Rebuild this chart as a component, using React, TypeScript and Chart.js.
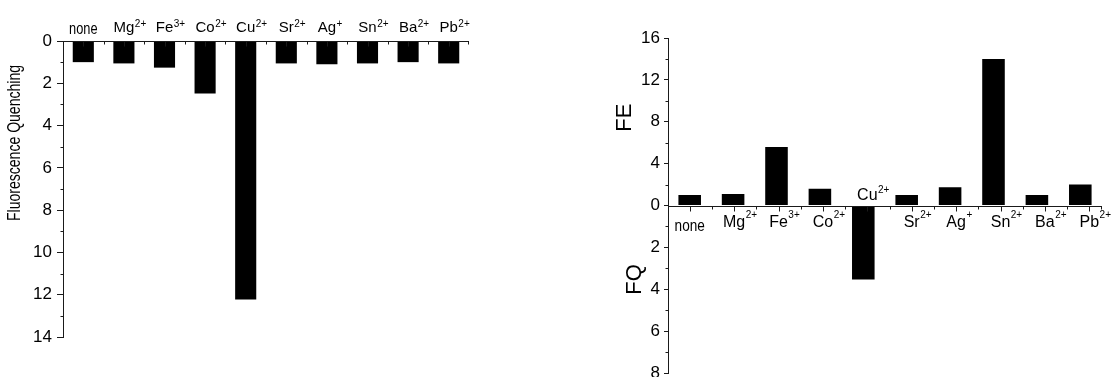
import React, { useEffect, useRef } from 'react';
import { Chart, registerables } from 'chart.js';

Chart.register(...registerables);

// Metal ions screened and their charges (drawn as superscripts)
const ions = ['none', 'Mg', 'Fe', 'Co', 'Cu', 'Sr', 'Ag', 'Sn', 'Ba', 'Pb'];
const charges = ['', '2+', '3+', '2+', '2+', '2+', '+', '2+', '2+', '2+'];

// Left panel: fluorescence quenching per ion
const quenching = [1.0, 1.06, 1.26, 2.48, 12.23, 1.06, 1.1, 1.06, 1.0, 1.06];
const quenchingTicks = [0, 2, 4, 6, 8, 10, 12, 14];

// Right panel: fluorescence enhancement (FE) above, quenching (FQ) below
const enhancementFE = [1.0, 1.1, 5.6, 1.6, null, 1.0, 1.75, 14.0, 1.0, 2.0];
const quenchingFQ = [null, null, null, null, 3.53, null, null, null, null, null];
const feTicks = [0, 4, 8, 12, 16];
const fqTicks = [0, 2, 4, 6, 8];

const FONT = "'Liberation Sans', Arial, Helvetica, sans-serif";
const INK = '#000000';
const AXIS = '#1a1a1a';

type IonStyle = {
  size: number;
  supSize: number;
  raise: number;
  noneSize: number;
  narrow: number;
};

function drawIon(ctx: CanvasRenderingContext2D, x: number, y: number, ion: string, charge: string, st: IonStyle) {
  ctx.fillStyle = INK;
  ctx.textBaseline = 'alphabetic';
  if (!charge) {
    ctx.save();
    ctx.translate(x, y);
    ctx.scale(st.narrow, 1);
    ctx.font = `${st.noneSize}px ${FONT}`;
    ctx.textAlign = 'center';
    ctx.fillText(ion, 0, 0);
    ctx.restore();
    return;
  }
  ctx.font = `${st.size}px ${FONT}`;
  const w = ctx.measureText(ion).width;
  ctx.textAlign = 'left';
  ctx.fillText(ion, x - w / 2, y);
  ctx.font = `${st.supSize}px ${FONT}`;
  ctx.fillText(charge, x + w / 2 + 0.5, y - st.raise);
}

function drawVTitle(ctx: CanvasRenderingContext2D, text: string, cx: number, cy: number, size: number, narrow: number) {
  ctx.save();
  ctx.translate(cx, cy);
  ctx.rotate(-Math.PI / 2);
  ctx.scale(narrow, 1);
  ctx.font = `${size}px ${FONT}`;
  ctx.fillStyle = INK;
  ctx.textAlign = 'center';
  ctx.textBaseline = 'middle';
  ctx.fillText(text, 0, 0);
  ctx.restore();
}

// short ticks halfway between the labelled ones, pointing away from the plot
function minorTicks(ctx: CanvasRenderingContext2D, scale: any, ticks: number[], axisX: number, len: number) {
  for (let k = 0; k < ticks.length - 1; k++) {
    const py = Math.round(scale.getPixelForValue((ticks[k] + ticks[k + 1]) / 2)) + 0.5;
    ctx.moveTo(axisX - len, py);
    ctx.lineTo(axisX, py);
  }
}

// category axis along the zero line: long ticks at ions, short ones between
function categoryTicks(ctx: CanvasRenderingContext2D, x: any, y0: number, right: number, drift: number) {
  const step = x.getPixelForValue(1) - x.getPixelForValue(0);
  ions.forEach((_, i) => {
    const c = x.getPixelForValue(i) + drift * i;
    const cx = Math.round(c) + 0.5;
    ctx.moveTo(cx, y0);
    ctx.lineTo(cx, y0 + 5);
    const b = Math.min(c + (step + drift) / 2, right - 1);
    const bx = Math.round(b) + 0.5;
    ctx.moveTo(bx, y0);
    ctx.lineTo(bx, y0 + 3);
  });
}

function fixedTicks(values: number[]) {
  return (s: any) => {
    s.ticks = values.map((v) => ({ value: v }));
  };
}

// fixed axis width; end labels may hang past the plot edge without shrinking it
function fixedWidth(w: number) {
  return (s: any) => {
    s.width = w;
    s.paddingTop = 0;
    s.paddingBottom = 0;
  };
}

const yTickFont = { family: FONT, size: 17 };

const quenchDecor = {
  id: 'quenchDecor',
  afterDatasetsDraw(chart: any) {
    const { ctx, chartArea, scales } = chart;
    const { x, y } = scales;
    const ax = Math.round(chartArea.left) + 0.5;
    const y0 = Math.round(y.getPixelForValue(0)) + 0.5;
    ctx.save();
    ctx.strokeStyle = AXIS;
    ctx.lineWidth = 1;
    ctx.beginPath();
    ctx.moveTo(chartArea.left, y0);
    ctx.lineTo(chartArea.right, y0);
    categoryTicks(ctx, x, y0, chartArea.right, 0);
    minorTicks(ctx, y, quenchingTicks, ax, 3);
    ctx.stroke();

    const st: IonStyle = { size: 15, supSize: 10, raise: 4.5, noneSize: 16, narrow: 0.8 };
    ions.forEach((ion, i) => {
      const cx = x.getPixelForValue(i);
      drawIon(ctx, cx, charges[i] ? y0 - 10 : y0 - 8, ion, charges[i], st);
    });
    drawVTitle(ctx, 'Fluorescence Quenching', 15, 143, 18, 0.78);
    ctx.restore();
  },
};

const responseDecor = {
  id: 'responseDecor',
  afterDatasetsDraw(chart: any) {
    const { ctx, chartArea, scales } = chart;
    const { x, yFE, yFQ } = scales;
    const ax = Math.round(chartArea.left) + 0.5;
    const y0 = Math.round(yFE.getPixelForValue(0)) + 0.5;
    const drift = 1;
    ctx.save();
    ctx.strokeStyle = AXIS;
    ctx.lineWidth = 1;
    ctx.beginPath();
    ctx.moveTo(chartArea.left, y0);
    ctx.lineTo(chartArea.right, y0);
    categoryTicks(ctx, x, y0, chartArea.right, drift);
    minorTicks(ctx, yFE, feTicks, ax, 3);
    minorTicks(ctx, yFQ, fqTicks, ax, 3);
    ctx.stroke();

    const st: IonStyle = { size: 16, supSize: 10, raise: 8.5, noneSize: 17, narrow: 0.8 };
    ions.forEach((ion, i) => {
      const cx = x.getPixelForValue(i) + drift * i;
      if (quenchingFQ[i] != null) {
        drawIon(ctx, cx, y0 - 7, ion, charges[i], { ...st, raise: 7 });
      } else {
        drawIon(ctx, cx, charges[i] ? y0 + 20 : y0 + 24, ion, charges[i], st);
      }
    });
    // axis titles sit left of the tick labels, one per half of the axis
    const feY = (yFE.top + yFE.bottom) / 2 - 4;
    const fqY = yFQ.top + 74;
    drawVTitle(ctx, 'FE', chartArea.left - 43, feY, 22, 1);
    drawVTitle(ctx, 'FQ', chartArea.left - 33, fqY, 22, 1);
    ctx.restore();
  },
};

const baseBar = {
  backgroundColor: INK,
  borderWidth: 0,
  barPercentage: 0.52,
  categoryPercentage: 1,
  grouped: false,
};

const labels = ions.map((ion, i) => ion + charges[i]);

function quenchConfig(): any {
  return {
    type: 'bar',
    data: {
      labels,
      datasets: [{ label: 'Fluorescence Quenching', data: quenching, ...baseBar }],
    },
    options: {
      responsive: false,
      animation: false,
      events: [],
      layout: { padding: { top: 41, bottom: 40, left: 0, right: 51 } },
      plugins: { legend: { display: false }, tooltip: { enabled: false } },
      scales: {
        x: { display: false },
        y: {
          type: 'linear',
          reverse: true,
          min: 0,
          max: 14,
          afterBuildTicks: fixedTicks(quenchingTicks),
          afterFit: fixedWidth(63),
          ticks: { color: INK, font: yTickFont, padding: 5, autoSkip: false },
          grid: { display: true, drawOnChartArea: false, drawTicks: true, tickLength: 6, color: AXIS },
          border: { display: true, color: AXIS, width: 1 },
        },
      },
    },
    plugins: [quenchDecor],
  };
}

function responseConfig(): any {
  return {
    type: 'bar',
    data: {
      labels,
      datasets: [
        { label: 'FE', data: enhancementFE, yAxisID: 'yFE', ...baseBar },
        { label: 'FQ', data: quenchingFQ, yAxisID: 'yFQ', ...baseBar },
      ],
    },
    options: {
      responsive: false,
      animation: false,
      events: [],
      layout: { padding: { top: 38, bottom: 4, left: 0, right: 12 } },
      plugins: { legend: { display: false }, tooltip: { enabled: false } },
      scales: {
        x: { display: false },
        yFE: {
          type: 'linear',
          position: 'left',
          stack: 'response',
          stackWeight: 1,
          weight: 1,
          min: 0,
          max: 16,
          afterBuildTicks: fixedTicks(feTicks),
          afterFit: fixedWidth(108),
          ticks: { color: INK, font: yTickFont, padding: 4, autoSkip: false },
          grid: { display: true, drawOnChartArea: false, drawTicks: true, tickLength: 4, color: AXIS },
          border: { display: true, color: AXIS, width: 1 },
        },
        yFQ: {
          type: 'linear',
          position: 'left',
          stack: 'response',
          stackWeight: 1,
          weight: 0,
          reverse: true,
          min: 0,
          max: 8,
          afterBuildTicks: fixedTicks(fqTicks),
          afterFit: fixedWidth(108),
          ticks: {
            color: INK,
            font: yTickFont,
            padding: 4,
            autoSkip: false,
            callback: (v: number) => (v === 0 ? '' : String(v)),
          },
          grid: { display: true, drawOnChartArea: false, drawTicks: true, tickLength: 4, color: AXIS },
          border: { display: true, color: AXIS, width: 1 },
        },
      },
    },
    plugins: [responseDecor],
  };
}

export default function App() {
  const leftRef = useRef<HTMLCanvasElement>(null);
  const rightRef = useRef<HTMLCanvasElement>(null);

  useEffect(() => {
    const left = new Chart(leftRef.current as HTMLCanvasElement, quenchConfig());
    const right = new Chart(rightRef.current as HTMLCanvasElement, responseConfig());
    return () => {
      left.destroy();
      right.destroy();
    };
  }, []);

  return (
    <div style={{ position: 'absolute', left: 0, top: 0, width: 1114, height: 377, background: '#fff', overflow: 'hidden' }}>
      <canvas ref={leftRef} width={520} height={377} style={{ position: 'absolute', left: 0, top: 0 }} />
      <canvas ref={rightRef} width={554} height={377} style={{ position: 'absolute', left: 560, top: 0 }} />
    </div>
  );
}
